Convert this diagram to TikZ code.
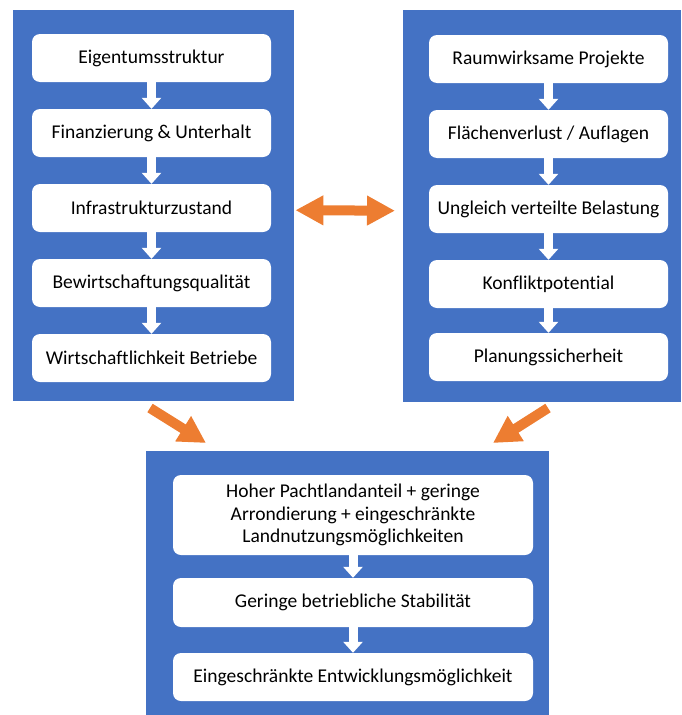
\documentclass[tikz,border=0pt]{standalone}
\usepackage{fontspec}
\setmainfont[Ligatures={NoCommon,NoRare}]{Carlito}
\usetikzlibrary{arrows.meta}
\definecolor{panelblue}{HTML}{4472C4}
\definecolor{arrorange}{HTML}{ED7D31}
\tikzset{
  panel/.style={fill=panelblue, draw=none, inner sep=0pt, anchor=north west},
  wbox/.style={fill=white, draw=none, rounded corners=8pt, minimum width=239pt, minimum height=48pt, inner sep=2pt, align=center, font=\fontsize{19.5}{22.5}\selectfont},
  warrow/.style={draw=white, line width=9pt, -{Triangle[width=19pt,length=11pt]}},
  oarrow/.style={draw=arrorange, line width=10pt, -{Triangle[width=28pt,length=27pt]}},
  odarrow/.style={draw=arrorange, line width=10pt, {Triangle[width=28pt,length=28pt]}-{Triangle[width=28pt,length=28pt]}}
}
\begin{document}
\begin{tikzpicture}[x=1pt,y=-1pt]
\useasboundingbox (0,0) rectangle (681,715);
% panels
\node[panel, minimum width=281pt, minimum height=391pt] (L) at (13,10) {};
\node[panel, minimum width=278pt, minimum height=392pt] (R) at (403,10) {};
\node[panel, minimum width=403pt, minimum height=264pt] (B) at (146,451) {};
% left boxes
\node[wbox] (l1) at (151.5,58) {Eigentumsstruktur};
\node[wbox] (l2) at (151.5,133) {Finanzierung \& Unterhalt};
\node[wbox] (l3) at (151.5,208) {Infrastrukturzustand};
\node[wbox] (l4) at (151.5,283) {Bewirtschaftungsqualität};
\node[wbox] (l5) at (151.5,358) {Wirtschaftlichkeit Betriebe};
% right boxes
\node[wbox] (r1) at (548.5,59) {Raumwirksame Projekte};
\node[wbox] (r2) at (548.5,134) {Flächenverlust / Auflagen};
\node[wbox] (r3) at (548.5,209) {Ungleich verteilte Belastung};
\node[wbox] (r4) at (548.5,284) {Konfliktpotential};
\node[wbox] (r5) at (548.5,357) {Planungssicherheit};
% bottom boxes
\node[wbox, minimum width=360pt, minimum height=80pt] (b1) at (353,515) {Hoher Pachtlandanteil + geringe\\Arrondierung + eingeschränkte\\Landnutzungsmöglichkeiten};
\node[wbox, minimum width=360pt, minimum height=49pt] (b2) at (353,602.5) {Geringe betriebliche Stabilität};
\node[wbox, minimum width=360pt, minimum height=48pt] (b3) at (353,677) {Eingeschränkte Entwicklungsmöglichkeit};
% white arrows
\foreach \a/\b in {l1/l2,l2/l3,l3/l4,l4/l5,r1/r2,r2/r3,r3/r4,r4/r5,b1/b2,b2/b3}
  \draw[warrow] (\a.south) -- (\b.north);
% orange arrows
\draw[odarrow] ([yshift=-4.5pt,xshift=1pt]L.east) -- ([yshift=-4.5pt,xshift=-8pt]R.west);
\coordinate (ls) at (150,408);
\coordinate (lt) at (206,443);
\coordinate (rs) at (548,408);
\coordinate (rt) at (493,443);
\draw[oarrow] (ls) -- (lt);
\draw[oarrow] (rs) -- (rt);
\end{tikzpicture}
\end{document}
